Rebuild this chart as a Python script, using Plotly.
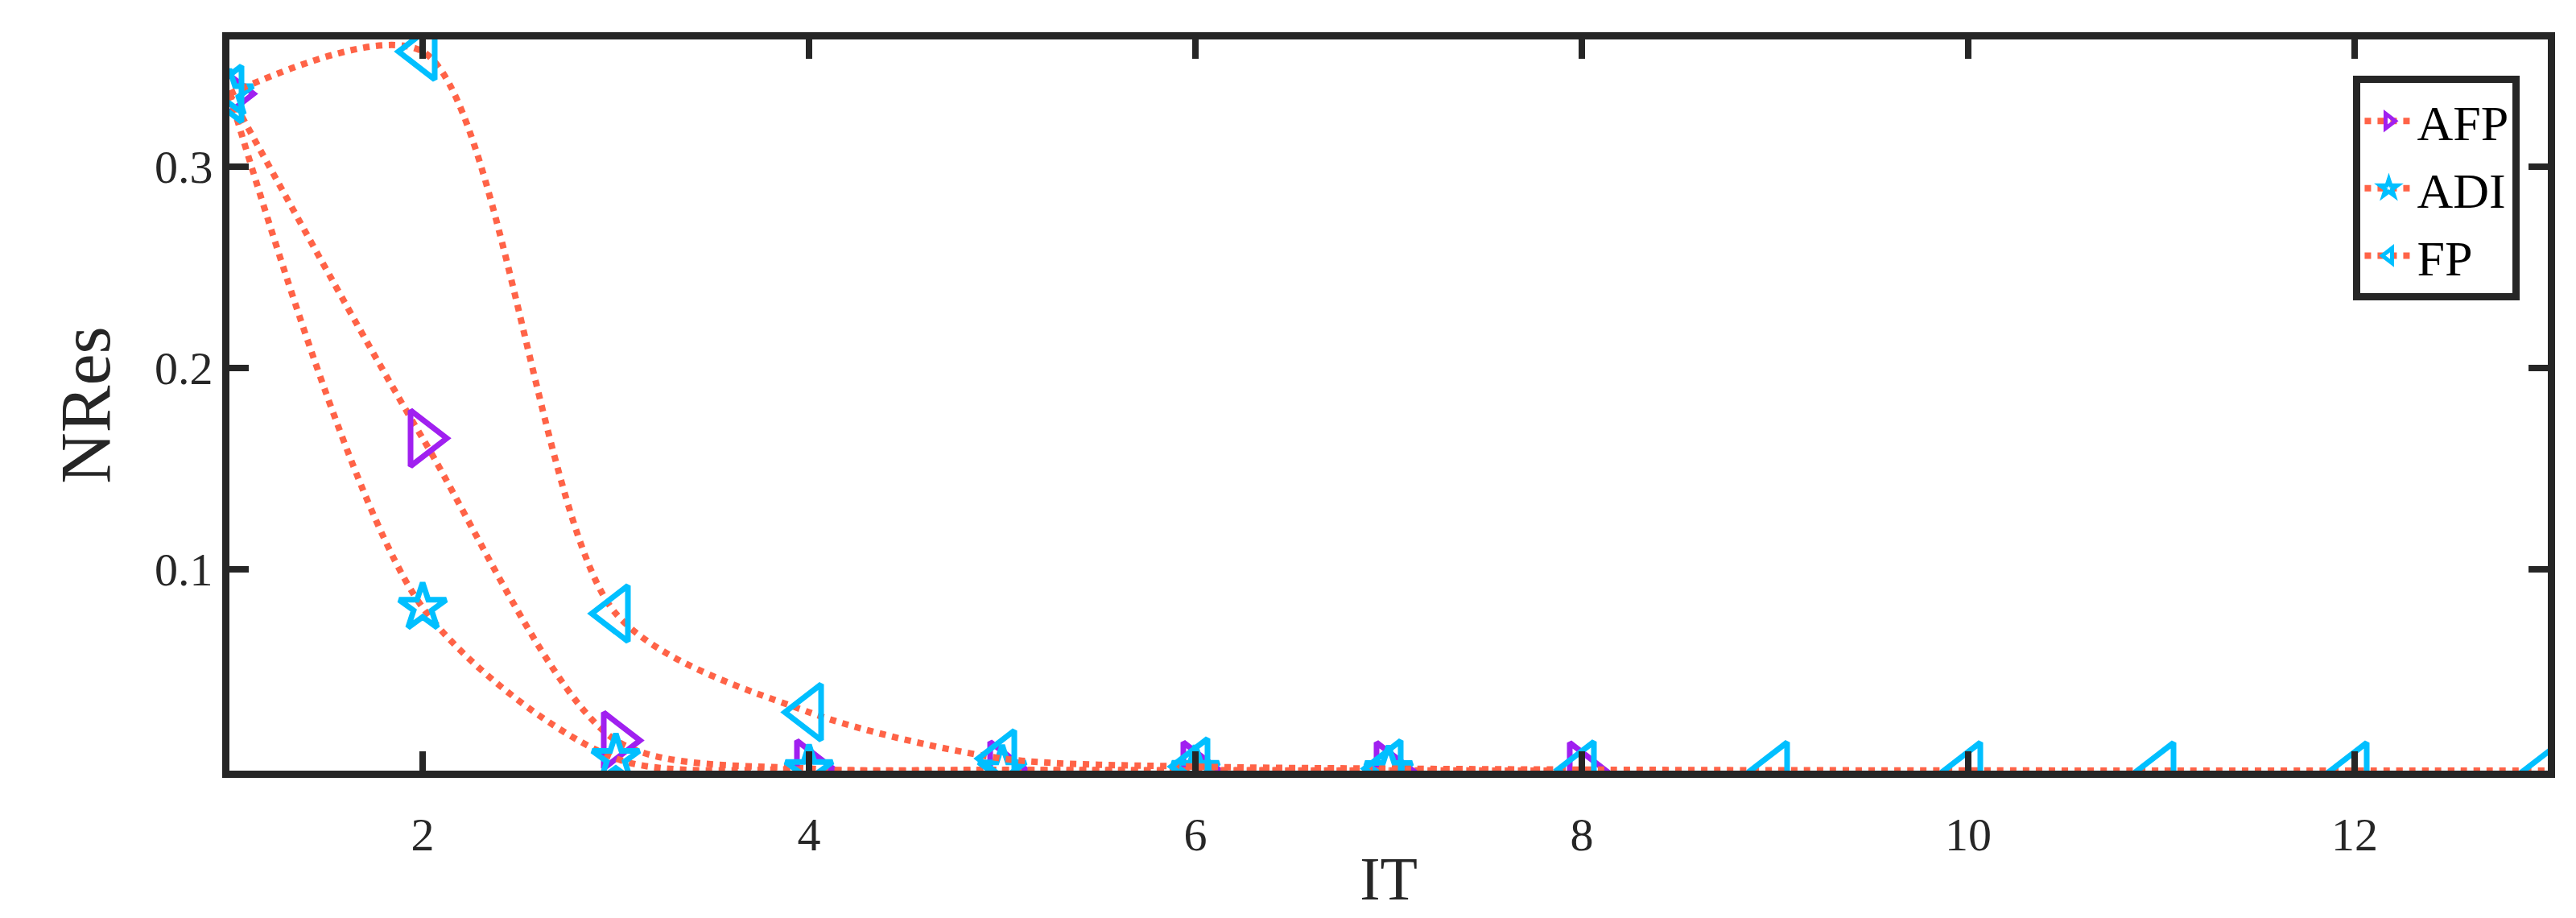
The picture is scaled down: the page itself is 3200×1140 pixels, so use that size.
import plotly.graph_objects as go

it_afp = [1, 2, 3, 4, 5, 6, 7, 8]
nres_afp = [0.336, 0.165, 0.015, 0.001, 0.0004, 0.0002, 0.0001, 0.0]

it_adi = [1, 2, 3, 4, 5, 6, 7]
nres_adi = [0.336, 0.081, 0.006, 0.0005, 0.0003, 0.0001, 0.0]

it_fp = [1, 2, 3, 4, 5, 6, 7, 8, 9, 10, 11, 12, 13]
nres_fp = [0.336, 0.357, 0.078, 0.029, 0.006, 0.002, 0.001, 0.0005, 0.0002, 0.0001, 0.0, 0.0, 0.0]

line_col = "#FF6347"
font = "Liberation Serif"

fig = go.Figure()
fig.add_trace(go.Scatter(x=it_afp, y=nres_afp, name="AFP", mode="lines+markers",
                         line=dict(color=line_col, width=8, dash="dot", shape="spline", smoothing=0.8),
                         marker=dict(symbol="triangle-right-open", size=60, color="#A020F0",
                                     line=dict(width=7))))
fig.add_trace(go.Scatter(x=it_adi, y=nres_adi, name="ADI", mode="lines+markers",
                         line=dict(color=line_col, width=8, dash="dot", shape="spline", smoothing=0.8),
                         marker=dict(symbol="star-open", size=44, color="#00BFFF",
                                     line=dict(width=7))))
fig.add_trace(go.Scatter(x=it_fp, y=nres_fp, name="FP", mode="lines+markers",
                         line=dict(color=line_col, width=8, dash="dot", shape="spline", smoothing=0.8),
                         marker=dict(symbol="triangle-left-open", size=60, color="#00BFFF",
                                     line=dict(width=7))))

axis = dict(showgrid=False, zeroline=False, showline=True, linecolor="#262626", linewidth=9,
            mirror="ticks", ticks="inside", ticklen=24, tickwidth=8, tickcolor="#262626",
            tickfont=dict(family=font, size=58, color="#262626"))

fig.update_layout(
    width=3200, height=1140,
    paper_bgcolor="white", plot_bgcolor="white",
    margin=dict(l=277, r=43, t=41, b=191),
    font=dict(family=font, color="#262626"),
    xaxis=dict(axis, range=[1, 13], tickvals=[2, 4, 6, 8, 10, 12], ticklabelstandoff=20,
               title=dict(text="IT", font=dict(size=76), standoff=0)),
    yaxis=dict(axis, range=[0, 0.363], tickvals=[0.1, 0.2, 0.3],
               title=dict(text="NRes", font=dict(size=88), standoff=30)),
    legend=dict(x=0.988, y=0.95, xanchor="right", yanchor="top",
                bgcolor="white", bordercolor="#262626", borderwidth=9,
                font=dict(family=font, size=62, color="black"), itemwidth=60),
    showlegend=True,
)

fig.write_html("out.html")
